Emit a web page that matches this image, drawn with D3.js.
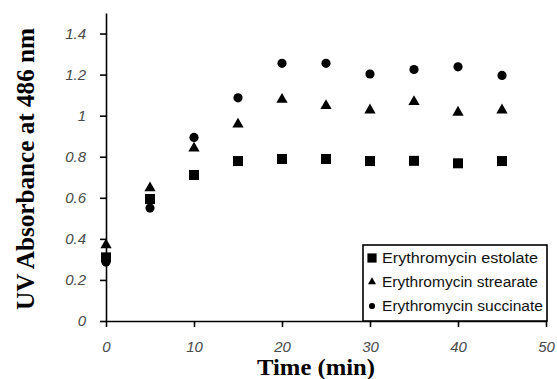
<!DOCTYPE html>
<html>
<head>
<meta charset="utf-8">
<script src="https://cdn.jsdelivr.net/npm/d3@7"></script>
<style>
  html, body { margin: 0; padding: 0; background: #fff; }
  svg { display: block; }
</style>
</head>
<body>
<svg id="chart" width="557" height="379"></svg>
<script>
// ---- data ----
const times = [0, 5, 10, 15, 20, 25, 30, 35, 40, 45];
const estolate  = [0.31, 0.594, 0.711, 0.779, 0.789, 0.789, 0.779, 0.780, 0.768, 0.779];
const stearate  = [0.37, 0.648, 0.841, 0.958, 1.079, 1.048, 1.027, 1.068, 1.016, 1.027];
const succinate = [0.287, 0.55, 0.894, 1.087, 1.255, 1.255, 1.203, 1.225, 1.238, 1.196];
const seriesNames = ["Erythromycin estolate", "Erythromycin strearate", "Erythromycin succinate"];
const xTickValues = [0, 10, 20, 30, 40, 50];
const xTickLabels = ["0", "10", "20", "30", "40", "50"];
const yTickValues = [0, 0.2, 0.4, 0.6, 0.8, 1, 1.2, 1.4];
const yTickLabels = ["0", "0.2", "0.4", "0.6", "0.8", "1", "1.2", "1.4"];
const xTitle = "Time (min)";
const yTitle = "UV Absorbance at 486 nm";

const svg = d3.select("#chart");
const x = d3.scaleLinear().domain([0, 50]).range([106, 546]);
const y = d3.scaleLinear().domain([0, 1.5]).range([321, 13]);

const tickFont = "'Liberation Sans', Arial, sans-serif";
const titleFont = "'Liberation Serif', 'Times New Roman', serif";

// x axis
const gx = svg.append("g").attr("transform", `translate(0,${y(0)})`)
  .call(d3.axisBottom(x).tickValues(xTickValues)
    .tickFormat((d, i) => xTickLabels[i]).tickSize(6).tickSizeOuter(0).tickPadding(14));
// y axis
const gy = svg.append("g").attr("transform", `translate(${x(0)},0)`)
  .call(d3.axisLeft(y).tickValues(yTickValues)
    .tickFormat((d, i) => yTickLabels[i]).tickSize(6).tickSizeOuter(0).tickPadding(14));

[gx, gy].forEach(g => {
  g.select(".domain").attr("stroke", "#000").attr("stroke-width", 1.6);
  g.selectAll(".tick line").attr("stroke", "#000").attr("stroke-width", 1.6);
  g.selectAll(".tick text")
    .attr("font-family", tickFont).attr("font-size", 15)
    .attr("font-style", "italic").attr("fill", "#4a4a4a");
});
gx.selectAll(".tick text").attr("dy", "0.71em");

// titles
svg.append("text")
  .attr("x", 316).attr("y", 375)
  .attr("text-anchor", "middle")
  .attr("font-family", titleFont)
  .attr("font-weight", "bold").attr("font-size", 23)
  .attr("textLength", 118).attr("lengthAdjust", "spacingAndGlyphs")
  .text(xTitle);

svg.append("text")
  .attr("transform", "rotate(-90)")
  .attr("x", -169).attr("y", 34)
  .attr("text-anchor", "middle")
  .attr("font-family", titleFont)
  .attr("font-weight", "bold").attr("font-size", 25)
  .attr("textLength", 282).attr("lengthAdjust", "spacingAndGlyphs")
  .text(yTitle);

// markers
const sq = d3.symbol().type(d3.symbolSquare).size(100);
const tri = d3.symbol().type(d3.symbolTriangle).size(55);
const cir = d3.symbol().type(d3.symbolCircle).size(66);

const series = [
  { name: seriesNames[0], values: estolate, sym: sq },
  { name: seriesNames[1], values: stearate, sym: tri },
  { name: seriesNames[2], values: succinate, sym: cir }
];

series.forEach(s => {
  svg.append("g").selectAll("path").data(times).join("path")
    .attr("d", s.sym())
    .attr("transform", (t, i) => `translate(${x(t)},${y(s.values[i])})`)
    .attr("fill", "#000");
});

// legend
const lg = svg.append("g");
lg.append("rect").attr("x", 363).attr("y", 245).attr("width", 184).attr("height", 76)
  .attr("fill", "#fff").attr("stroke", "#000").attr("stroke-width", 1.6);
const legSyms = [
  d3.symbol().type(d3.symbolSquare).size(85),
  d3.symbol().type(d3.symbolTriangle).size(28),
  d3.symbol().type(d3.symbolCircle).size(30)
];
const legY = [258, 282, 306];
const legLen = [156, 156, 161];
seriesNames.forEach((n, i) => {
  lg.append("path").attr("d", legSyms[i]())
    .attr("transform", `translate(372,${legY[i]})`).attr("fill", "#000");
  lg.append("text").attr("x", 382).attr("y", legY[i] + 5)
    .attr("font-family", tickFont).attr("font-size", 14).attr("fill", "#111")
    .attr("textLength", legLen[i]).attr("lengthAdjust", "spacingAndGlyphs")
    .text(n);
});
</script>
</body>
</html>
